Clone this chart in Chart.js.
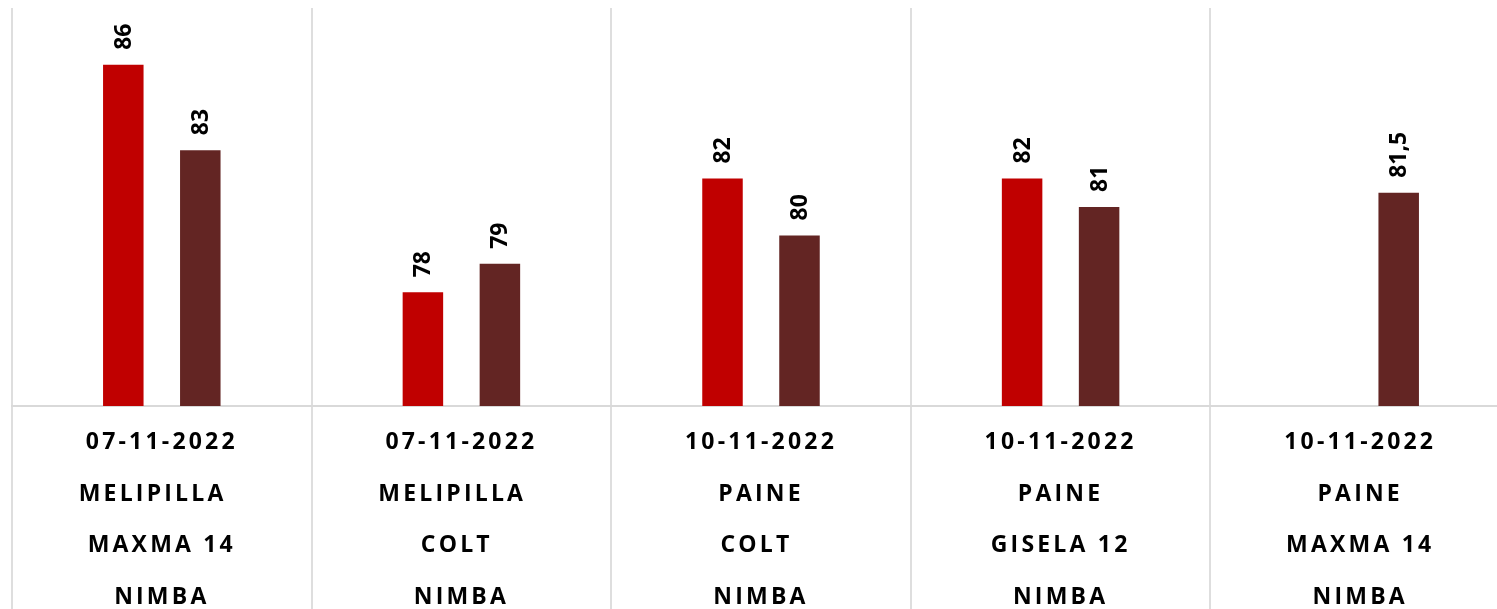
<!DOCTYPE html>
<html>
<head>
<meta charset="utf-8">
<script src="https://cdn.jsdelivr.net/npm/chart.js@4.4.1/dist/chart.umd.min.js"></script>
<style>
  html, body { margin: 0; padding: 0; background: #fff; overflow: hidden; }
  #wrap { width: 1497px; height: 609px; overflow: hidden; }
  #chart { display: block; }
</style>
</head>
<body>
<div id="wrap"><canvas id="chart" width="1512" height="609"></canvas></div>
<script>
// categorías (fecha / localidad / portainjerto / variedad)
const categories = [
  ['07-11-2022', 'MELIPILLA  ', 'MAXMA 14', 'NIMBA'],
  ['07-11-2022', 'MELIPILLA  ', 'COLT ', 'NIMBA'],
  ['10-11-2022', 'PAINE', 'COLT ', 'NIMBA'],
  ['10-11-2022', 'PAINE', 'GISELA 12', 'NIMBA'],
  ['10-11-2022', 'PAINE', 'MAXMA 14', 'NIMBA']
];
const serieA = [86, 78, 82, 82, null];
const serieB = [83, 79, 80, 81, 81.5];

// etiquetas verticales sobre las barras
const barLabels = {
  id: 'barLabels',
  afterDatasetsDraw(chart) {
    const ctx = chart.ctx;
    chart.data.datasets.forEach((ds, i) => {
      const meta = chart.getDatasetMeta(i);
      meta.data.forEach((bar, j) => {
        const v = ds.data[j];
        if (v == null) return;
        ctx.save();
        ctx.letterSpacing = '0px';
        ctx.font = 'bold 23px "Open Sans"';
        ctx.fillStyle = '#000';
        ctx.textAlign = 'left';
        ctx.textBaseline = 'middle';
        ctx.translate(bar.x + 1, bar.y - 15);
        ctx.rotate(-Math.PI / 2);
        ctx.fillText(String(v).replace('.', ','), 0, 0);
        ctx.restore();
      });
    });
  }
};

// espaciado entre letras de las categorías
const spacing = {
  id: 'spacing',
  beforeDraw(chart) { chart.ctx.letterSpacing = '3.2px'; },
  afterDraw(chart) { chart.ctx.letterSpacing = '0px'; }
};

new Chart(document.getElementById('chart'), {
  type: 'bar',
  data: {
    labels: categories,
    datasets: [
      { label: 'A', data: serieA, backgroundColor: '#c00000', categoryPercentage: 0.514, barPercentage: 0.526 },
      { label: 'B', data: serieB, backgroundColor: '#632523', categoryPercentage: 0.514, barPercentage: 0.526 }
    ]
  },
  options: {
    responsive: false,
    animation: false,
    layout: { padding: { left: 12, right: 2, top: 8, bottom: 0 } },
    plugins: { legend: { display: false }, tooltip: { enabled: false } },
    scales: {
      y: { display: false, min: 74, max: 88 },
      x: {
        border: { display: true, color: '#d9d9d9', width: 2 },
        grid: { color: '#dedede', lineWidth: 2, drawTicks: true, tickLength: 203, offset: true },
        ticks: {
          color: '#000',
          padding: -192,
          maxRotation: 0,
          autoSkip: false,
          font: { family: '"Open Sans"', size: 23, weight: 'bold', lineHeight: '51.5px' }
        },
        afterFit(scale) { scale.height = 203; }
      }
    }
  },
  plugins: [spacing, barLabels]
});
</script>
</body>
</html>
